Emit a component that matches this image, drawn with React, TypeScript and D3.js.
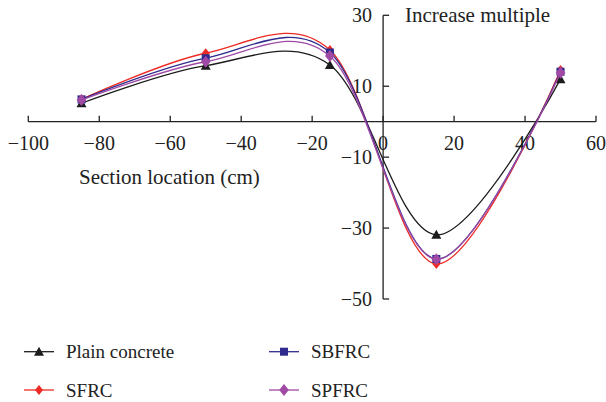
import React from 'react';
import * as d3 from 'd3';

// section locations (cm) where values were measured
const locations = [-85, -50, -15, 15, 50];

// increase multiple per material
const plainConcrete = [5.2, 15.8, 16.0, -31.9, 12.0];
const sfrc = [6.3, 19.3, 20.2, -40.1, 14.6];
const sbfrc = [6.3, 17.9, 19.5, -38.7, 14.1];
const spfrc = [6.1, 16.9, 18.5, -38.8, 13.8];

const xTicks = [-100, -80, -60, -40, -20, 0, 20, 40, 60];
const yTicks = [30, 10, -10, -30, -50];

const seriesList = [
  { name: 'Plain concrete', values: plainConcrete, color: '#1c1c1c', marker: 'triangle' },
  { name: 'SFRC', values: sfrc, color: '#ee2a24', marker: 'diamondSmall' },
  { name: 'SBFRC', values: sbfrc, color: '#2f2b8c', marker: 'square' },
  { name: 'SPFRC', values: spfrc, color: '#a04aa5', marker: 'diamond' },
];

const font = '"Liberation Serif", "DejaVu Serif", serif';

const Marker = ({ type, x, y, color }) => {
  if (type === 'triangle') {
    return <path d={`M${x},${y - 5}L${x + 5},${y + 4}L${x - 5},${y + 4}Z`} fill={color} />;
  }
  if (type === 'square') {
    return <rect x={x - 4} y={y - 4} width={8} height={8} fill={color} />;
  }
  const r = type === 'diamond' ? 6 : 5;
  return <path d={`M${x},${y - r}L${x + r * 0.8},${y}L${x},${y + r}L${x - r * 0.8},${y}Z`} fill={color} />;
};

const App = () => {
  const width = 606;
  const height = 402;

  // scales
  const x = d3.scaleLinear().domain([-100, 60]).range([28.3, 596]);
  const y = d3.scaleLinear().domain([30, -50]).range([15.3, 299]);

  const line = d3.line<number>()
    .x((d, i) => x(locations[i]))
    .y(d => y(d))
    .curve(d3.curveCardinal.tension(0));

  const legendPos = [
    { lx: 24, ly: 351.7 },
    { lx: 24, ly: 390 },
    { lx: 269, ly: 351.7 },
    { lx: 269, ly: 390 },
  ];

  return (
    <svg width={width} height={height} style={{ position: 'absolute', left: 0, top: 0 }}>
      <rect width={width} height={height} fill="#fff" />

      {/* x axis */}
      <line x1={x(-100)} x2={x(60)} y1={y(0)} y2={y(0)} stroke="#222" strokeWidth={1.3} />
      {xTicks.map(t => (
        <g key={t}>
          <line x1={x(t)} x2={x(t)} y1={y(0)} y2={y(0) - 6} stroke="#222" strokeWidth={1.3} />
          <text x={x(t)} y={150} textAnchor="middle" fontFamily={font} fontSize={20} fill="#222">
            {t < 0 ? '\u2212' + Math.abs(t) : t}
          </text>
        </g>
      ))}

      {/* y axis */}
      <line x1={x(0)} x2={x(0)} y1={y(30)} y2={y(-50)} stroke="#222" strokeWidth={1.3} />
      {yTicks.map(t => (
        <g key={t}>
          <line x1={x(0)} x2={x(0) + 6} y1={y(t)} y2={y(t)} stroke="#222" strokeWidth={1.3} />
          <text x={372} y={y(t) + 7} textAnchor="end" fontFamily={font} fontSize={20} fill="#222">
            {t < 0 ? '\u2212' + Math.abs(t) : t}
          </text>
        </g>
      ))}

      <text x={79} y={184} fontFamily={font} fontSize={21} fill="#222">Section location (cm)</text>
      <text x={405} y={22} fontFamily={font} fontSize={21} fill="#222">Increase multiple</text>

      {/* series */}
      {seriesList.map(s => (
        <g key={s.name}>
          <path d={line(s.values) || ''} fill="none" stroke={s.color} strokeWidth={1.3} />
          {s.values.map((v, i) => (
            <Marker key={i} type={s.marker} x={x(locations[i])} y={y(v)} color={s.color} />
          ))}
        </g>
      ))}

      {/* legend */}
      {seriesList.map((s, i) => {
        const { lx, ly } = legendPos[i];
        return (
          <g key={s.name}>
            <line x1={lx} x2={lx + 30} y1={ly} y2={ly} stroke={s.color} strokeWidth={1.3} />
            <Marker type={s.marker} x={lx + 15} y={ly} color={s.color} />
            <text x={lx + 42} y={ly + 6.5} fontFamily={font} fontSize={19} fill="#222">{s.name}</text>
          </g>
        );
      })}
    </svg>
  );
};

export default App;
